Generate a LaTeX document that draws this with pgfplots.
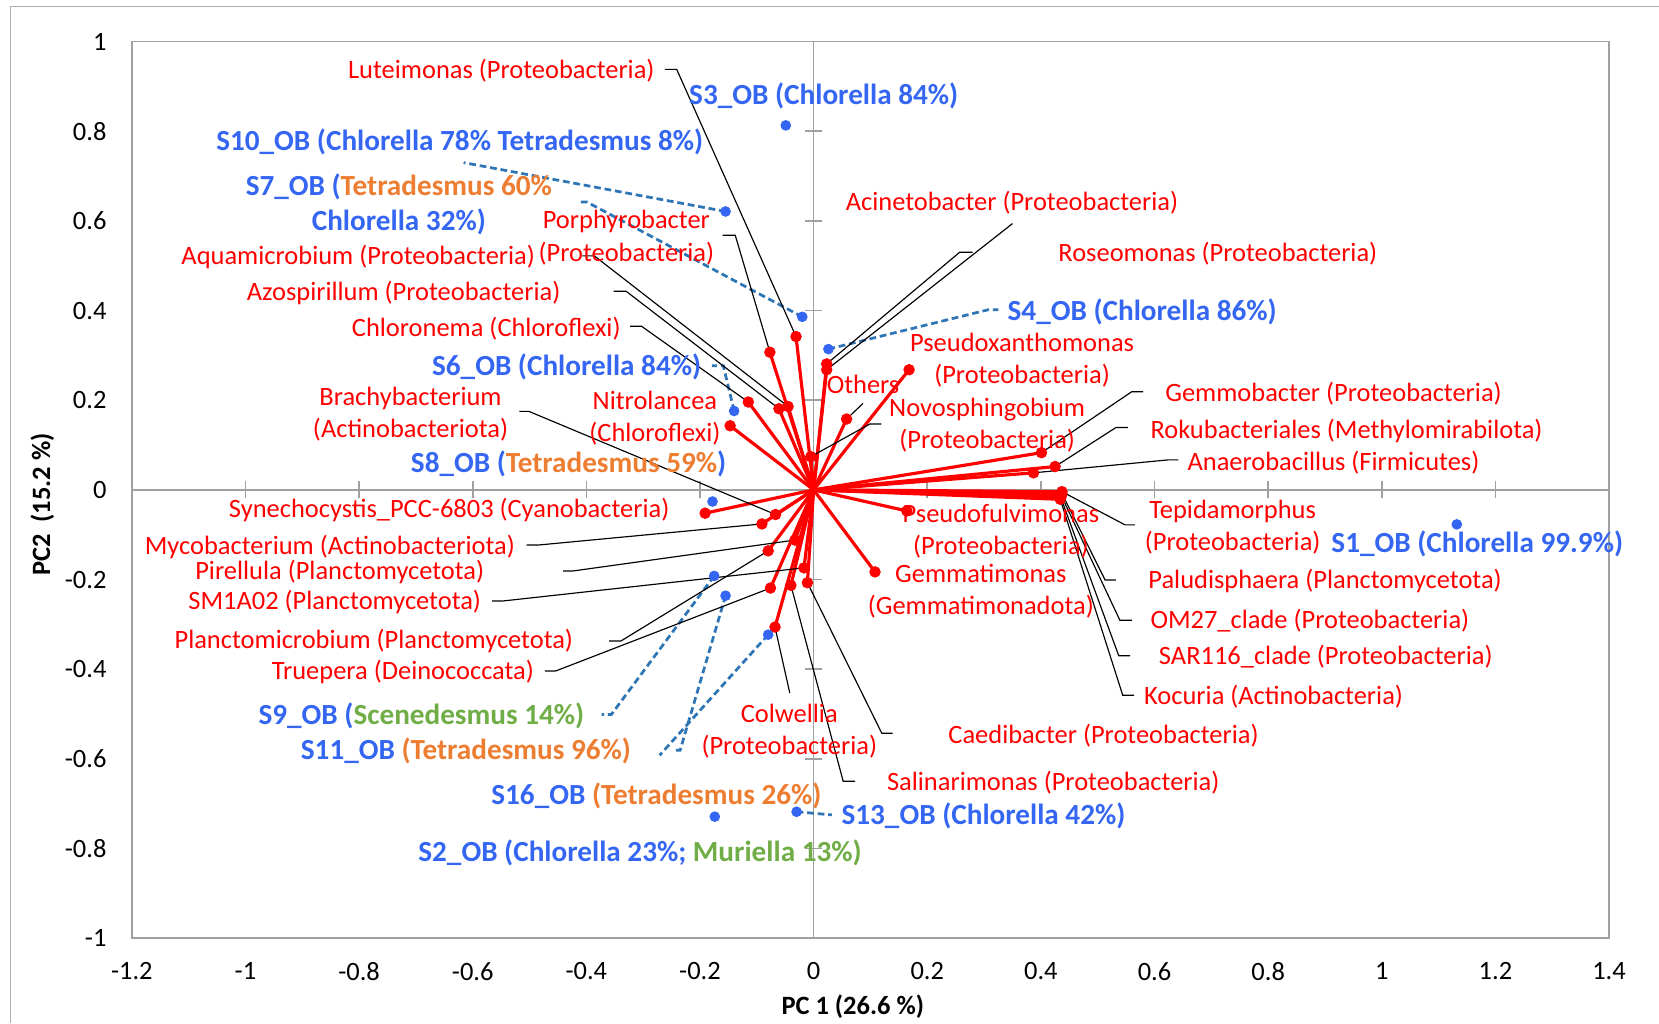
\documentclass[border=0pt]{standalone}
\usepackage{fontspec}
\setmainfont{Carlito}
\usepackage{pgfplots}
\usepackage{pgfplotstable}
\pgfplotsset{compat=1.18}

\definecolor{taxred}{RGB}{255,0,0}
\definecolor{sampleblue}{RGB}{52,102,242}
\definecolor{tetraorange}{RGB}{237,125,49}
\definecolor{scenegreen}{RGB}{112,173,71}
\definecolor{leaderblue}{RGB}{46,117,182}
\definecolor{axisgray}{RGB}{160,160,160}
\definecolor{framegray}{RGB}{175,175,175}

\newcommand{\taxfont}{\fontsize{12.5}{15.3}\selectfont}
\newcommand{\smpfont}{\fontsize{13.8}{16.5}\selectfont\bfseries}

% PCA loadings of the bacterial genera (PC1, PC2)
\pgfplotstableread{
taxon x y
Luteimonas -0.031 0.342
Porphyrobacter -0.077 0.307
Roseomonas 0.023 0.281
Acinetobacter 0.023 0.268
Pseudoxanthomonas 0.168 0.268
Chloronema -0.115 0.196
Azospirillum -0.061 0.181
Aquamicrobium -0.045 0.186
Others 0.058 0.158
Nitrolancea -0.147 0.143
Novosphingobium -0.005 0.074
Synechocystis -0.191 -0.052
Brachybacterium -0.067 -0.055
Mycobacterium -0.091 -0.076
Pirellula -0.033 -0.112
Planctomicrobium -0.080 -0.136
SM1A02 -0.017 -0.174
Gemmatimonas 0.108 -0.183
Caedibacter -0.011 -0.207
Salinarimonas -0.040 -0.213
Truepera -0.076 -0.219
Colwellia -0.068 -0.306
Pseudofulvimonas 0.164 -0.047
Gemmobacter 0.401 0.083
Rokubacteriales 0.425 0.052
Anaerobacillus 0.387 0.038
Tepidamorphus 0.437 -0.004
Paludisphaera 0.437 -0.008
OM27clade 0.436 -0.013
SAR116clade 0.435 -0.017
Kocuria 0.434 -0.021
}\loadings

% PCA scores of the samples
\pgfplotstableread{
sample x y
S3 -0.049 0.813
S10 -0.155 0.621
S7 -0.020 0.386
S4 0.026 0.314
S6 -0.140 0.176
S8 -0.178 -0.026
S9 -0.175 -0.192
S11 -0.155 -0.236
S16 -0.080 -0.323
S13 -0.030 -0.718
S2 -0.174 -0.729
S1 1.132 -0.077
}\samples

\begin{document}
\begin{tikzpicture}
\useasboundingbox (0,0) rectangle (784pt,-483.5pt);
% outer chart frame
\draw[framegray, line width=0.6pt] (5.05pt,-483.5pt) -- (5.05pt,-3.15pt) -- (784pt,-3.15pt);

\begin{axis}[
  at={(62.3pt,-443.35pt)}, anchor=south west,
  scale only axis, width=698.1pt, height=423.7pt,
  xmin=-1.2, xmax=1.4, ymin=-1, ymax=1,
  clip=false,
  axis line style={axisgray, line width=0.8pt},
  major tick length=0pt,
  xtick={-1.2,-1,-0.8,-0.6,-0.4,-0.2,0,0.2,0.4,0.6,0.8,1,1.2,1.4},
  xticklabels={-1.2,-1,-0.8,-0.6,-0.4,-0.2,0,0.2,0.4,0.6,0.8,1,1.2,1.4},
  ytick={-1,-0.8,-0.6,-0.4,-0.2,0,0.2,0.4,0.6,0.8,1},
  yticklabels={-1,-0.8,-0.6,-0.4,-0.2,0,0.2,0.4,0.6,0.8,1},
  tick label style={font=\fontsize{12.5}{15}\selectfont, inner sep=0pt},
  xticklabel style={anchor=center, yshift=-15.65pt},
  yticklabel style={anchor=east, xshift=-11.8pt},
]
% zero lines with centred tick marks
\draw[axisgray, line width=0.8pt] (axis cs:-1.2,0) -- (axis cs:1.4,0);
\draw[axisgray, line width=0.8pt] (axis cs:0,-1) -- (axis cs:0,1);
\pgfplotsinvokeforeach{-1.2,-1,-0.8,-0.6,-0.4,-0.2,0.2,0.4,0.6,0.8,1,1.2,1.4}{
  \draw[axisgray, line width=0.8pt] (axis cs:#1,0) ++(0pt,-4pt) -- ++(0pt,8pt);
}
\pgfplotsinvokeforeach{-1,-0.8,-0.6,-0.4,-0.2,0.2,0.4,0.6,0.8,1}{
  \draw[axisgray, line width=0.8pt] (axis cs:0,#1) ++(-4pt,0pt) -- ++(8pt,0pt);
}

% dashed leaders from sample scores to their labels
\begin{scope}[leaderblue, line width=1.3pt, dash pattern=on 3.2pt off 1.8pt]
\draw (axis cs:-0.155,0.621) -- (axis cs:-0.616,0.730);
\draw (axis cs:-0.020,0.386) -- (axis cs:-0.399,0.642) -- (axis cs:-0.413,0.642);
\draw (axis cs:-0.140,0.176) -- (axis cs:-0.159,0.277) -- (axis cs:-0.179,0.277);
\draw (axis cs:0.026,0.314) -- (axis cs:0.308,0.402) -- (axis cs:0.325,0.402);
\draw (axis cs:-0.175,-0.192) -- (axis cs:-0.356,-0.501) -- (axis cs:-0.373,-0.501);
\draw (axis cs:-0.155,-0.236) -- (axis cs:-0.235,-0.581) -- (axis cs:-0.249,-0.581);
\draw (axis cs:-0.080,-0.323) -- (axis cs:-0.271,-0.592);
\draw (axis cs:-0.030,-0.718) -- (axis cs:0.032,-0.725);
\end{scope}

% loading vectors
\addplot[draw=taxred, line width=1.5pt,
  quiver={u=\thisrow{x}, v=\thisrow{y}}]
  table[x expr=0, y expr=0] {\loadings};
\addplot[only marks, mark=*, mark size=2.5pt, color=taxred]
  table[x=x, y=y] {\loadings};

% sample scores
\addplot[only marks, mark=*, mark size=2.3pt, color=sampleblue]
  table[x=x, y=y] {\samples};

% leader lines of the genus labels
\begin{scope}[black, line width=0.55pt]
\draw (axis cs:-0.031,0.342) -- (axis cs:-0.241,0.938) -- (axis cs:-0.262,0.938);
\draw (axis cs:-0.077,0.307) -- (axis cs:-0.138,0.568) -- (axis cs:-0.160,0.568);
\draw (axis cs:-0.045,0.186) -- (axis cs:-0.386,0.522) -- (axis cs:-0.407,0.522);
\draw (axis cs:-0.061,0.181) -- (axis cs:-0.330,0.443) -- (axis cs:-0.352,0.443);
\draw (axis cs:-0.115,0.196) -- (axis cs:-0.303,0.365) -- (axis cs:-0.323,0.365);
\draw (axis cs:-0.067,-0.055) -- (axis cs:-0.501,0.175) -- (axis cs:-0.518,0.175);
\draw (axis cs:-0.091,-0.076) -- (axis cs:-0.484,-0.123) -- (axis cs:-0.505,-0.123);
\draw (axis cs:-0.033,-0.112) -- (axis cs:-0.424,-0.181) -- (axis cs:-0.441,-0.181);
\draw (axis cs:-0.017,-0.174) -- (axis cs:-0.548,-0.248) -- (axis cs:-0.566,-0.248);
\draw (axis cs:-0.080,-0.136) -- (axis cs:-0.339,-0.337) -- (axis cs:-0.360,-0.337);
\draw (axis cs:-0.076,-0.219) -- (axis cs:-0.454,-0.404) -- (axis cs:-0.473,-0.404);
\draw (axis cs:-0.068,-0.306) -- (axis cs:-0.042,-0.453);
\draw (axis cs:-0.011,-0.207) -- (axis cs:0.120,-0.543) -- (axis cs:0.139,-0.543);
\draw (axis cs:-0.040,-0.213) -- (axis cs:0.052,-0.650) -- (axis cs:0.073,-0.650);
\draw (axis cs:0.023,0.268) -- (axis cs:0.350,0.594);
\draw (axis cs:0.023,0.281) -- (axis cs:0.257,0.530) -- (axis cs:0.280,0.530);
\draw (axis cs:0.058,0.158) -- (axis cs:0.087,0.193);
\draw (axis cs:-0.005,0.074) -- (axis cs:0.099,0.147) -- (axis cs:0.119,0.147);
\draw (axis cs:0.401,0.083) -- (axis cs:0.560,0.219) -- (axis cs:0.580,0.219);
\draw (axis cs:0.425,0.052) -- (axis cs:0.532,0.139) -- (axis cs:0.553,0.139);
\draw (axis cs:0.387,0.038) -- (axis cs:0.625,0.067) -- (axis cs:0.642,0.067);
\draw (axis cs:0.437,-0.004) -- (axis cs:0.548,-0.078) -- (axis cs:0.566,-0.078);
\draw (axis cs:0.437,-0.008) -- (axis cs:0.513,-0.201) -- (axis cs:0.532,-0.201);
\draw (axis cs:0.436,-0.013) -- (axis cs:0.539,-0.291) -- (axis cs:0.560,-0.291);
\draw (axis cs:0.435,-0.017) -- (axis cs:0.537,-0.370) -- (axis cs:0.557,-0.370);
\draw (axis cs:0.434,-0.021) -- (axis cs:0.544,-0.458) -- (axis cs:0.564,-0.458);
\end{scope}
\end{axis}

% labels, positioned in a 0.5pt grid measured from the top-left corner
\begin{scope}[x=0.5pt, y=-0.5pt, every node/.style={inner sep=0pt}]
% axis titles
\node[font=\fontsize{12.5}{15}\selectfont\bfseries] at (806,951) {PC 1 (26.6 \%)};
\node[font=\fontsize{12.5}{15}\selectfont\bfseries, rotate=90] at (40,477) {PC2\ \ (15.2 \%)};

% genus labels
\begin{scope}[every node/.append style={text=taxred, font=\taxfont}]
\node[anchor=east] at (619,67) {Luteimonas (Proteobacteria)};
\node[anchor=east] at (506,243) {Aquamicrobium (Proteobacteria)};
\node[anchor=east] at (530,277) {Azospirillum (Proteobacteria)};
\node[anchor=east] at (587,311) {Chloronema (Chloroflexi)};
\node[anchor=east] at (633,482) {Synechocystis\_PCC-6803 (Cyanobacteria)};
\node[anchor=east] at (487,517) {Mycobacterium (Actinobacteriota)};
\node[anchor=east] at (458,541) {Pirellula (Planctomycetota)};
\node[anchor=east] at (455,569) {SM1A02 (Planctomycetota)};
\node[anchor=east] at (542,606) {Planctomicrobium (Planctomycetota)};
\node[anchor=east] at (505,635) {Truepera (Deinococcata)};
\node[anchor=west] at (799,192) {Acinetobacter (Proteobacteria)};
\node[anchor=west] at (1000,240) {Roseomonas (Proteobacteria)};
\node[anchor=west] at (781,363) {Others};
\node[anchor=west] at (1101,372) {Gemmobacter (Proteobacteria)};
\node[anchor=west] at (1087,407) {Rokubacteriales (Methylomirabilota)};
\node[anchor=west] at (1122,437) {Anaerobacillus (Firmicutes)};
\node[anchor=west] at (1085,549) {Paludisphaera (Planctomycetota)};
\node[anchor=west] at (1087,587) {OM27\_clade (Proteobacteria)};
\node[anchor=west] at (1095,621) {SAR116\_clade (Proteobacteria)};
\node[anchor=west] at (1081,658) {Kocuria (Actinobacteria)};
\node[anchor=west] at (896,695) {Caedibacter (Proteobacteria)};
\node[anchor=west] at (838,740) {Salinarimonas (Proteobacteria)};
\node[align=center] at (592,224.5) {Porphyrobacter\\(Proteobacteria)};
\node[align=center] at (388,391.5) {Brachybacterium\\(Actinobacteriota)};
\node[align=center] at (619,395) {Nitrolancea\\(Chloroflexi)};
\node[align=center] at (746,691) {Colwellia\\(Proteobacteria)};
\node[align=center] at (966,340.5) {Pseudoxanthomonas\\(Proteobacteria)};
\node[align=center] at (933,402) {Novosphingobium\\(Proteobacteria)};
\node[align=center] at (1165,498) {Tepidamorphus\\(Proteobacteria)};
\node[align=center] at (946,502) {Pseudofulvimonas\\(Proteobacteria)};
\node[align=center] at (927,558.5) {Gemmatimonas\\(Gemmatimonadota)};
\end{scope}

% sample labels
\begin{scope}[every node/.append style={text=sampleblue, font=\smpfont}]
\node[anchor=west] at (651,91) {S3\_OB (Chlorella 84\%)};
\node[anchor=west] at (204,134) {S10\_OB (Chlorella 78\% Tetradesmus 8\%)};
\node[align=center] at (377,193.5) {S7\_OB (\textcolor{tetraorange}{Tetradesmus 60\%}\\Chlorella 32\%)};
\node[anchor=west] at (952,295) {S4\_OB (Chlorella 86\%)};
\node[anchor=west] at (408,347) {S6\_OB (Chlorella 84\%)};
\node[anchor=west] at (388,438) {S8\_OB (\textcolor{tetraorange}{Tetradesmus 59\%})};
\node[anchor=west] at (1258,514) {S1\_OB (Chlorella 99.9\%)};
\node[anchor=west] at (244,677) {S9\_OB (\textcolor{scenegreen}{Scenedesmus 14\%)}};
\node[anchor=west] at (284,710) {S11\_OB \textcolor{tetraorange}{(Tetradesmus 96\%)}};
\node[anchor=west] at (464,752) {S16\_OB \textcolor{tetraorange}{(Tetradesmus 26\%)}};
\node[anchor=west] at (795,771) {S13\_OB (Chlorella 42\%)};
\node[anchor=west] at (395,806) {S2\_OB (Chlorella 23\%; \textcolor{scenegreen}{Muriella 13\%)}};
\end{scope}
\end{scope}
\end{tikzpicture}
\end{document}
